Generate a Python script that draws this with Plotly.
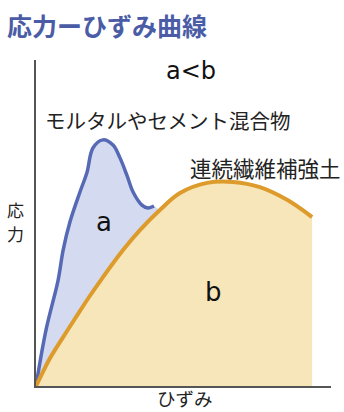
import plotly.graph_objects as go

# strain / stress, 0-100 scale on both axes
mortar_strain = [0, 3.4, 7.5, 9.2, 11.5, 14.9, 17.3, 19.3, 22.7, 26.1, 28.5, 30.8, 32.9, 35.9, 38.0, 40.0]
mortar_stress = [0, 17.2, 32.5, 41.7, 50.3, 59.5, 65.6, 73.0, 75.5, 73.9, 69.9, 64.7, 59.5, 55.5, 54.6, 55.2]

soil_strain = [0, 1.0, 4.4, 9.2, 13.6, 18.0, 22.0, 29.5, 35.3, 42.0, 48.8, 58.0, 66.8, 75.9, 85.1, 93.6]
soil_stress = [0, 1.8, 8.0, 15.0, 21.2, 27.3, 32.5, 41.7, 47.9, 54.0, 59.2, 62.3, 62.6, 61.0, 57.1, 51.8]

W, H = 344, 412
L, R, T, B = 36, 13, 60, 26
FONT = "Noto Sans CJK JP"
LATIN = "DejaVu Sans"


def px(x, y):
    # page pixel -> paper coords
    return (x - L) / (W - L - R), (H - B - y) / (H - T - B)


fig = go.Figure()

# orange area under the fibre-reinforced soil curve
fig.add_trace(go.Scatter(
    x=soil_strain, y=soil_stress, mode="lines",
    line=dict(color="rgba(0,0,0,0)", width=0, shape="spline"),
    fill="tozeroy", fillcolor="#f7e6b9", hoverinfo="skip",
))

# lower edge of the "a" region: soil curve up to where the mortar curve ends
n = len([s for s in soil_strain if s <= 42.0])
fig.add_trace(go.Scatter(
    x=soil_strain[:n], y=soil_stress[:n], mode="lines",
    line=dict(color="rgba(0,0,0,0)", width=0, shape="spline"),
    hoverinfo="skip",
))
fig.add_trace(go.Scatter(
    x=mortar_strain, y=mortar_stress, mode="lines",
    line=dict(color="#5669b5", width=3.5, shape="spline"),
    fill="tonexty", fillcolor="#d4daef",
))

fig.add_trace(go.Scatter(
    x=soil_strain, y=soil_stress, mode="lines",
    line=dict(color="#dd9b2c", width=4, shape="spline"),
))

labels = [
    ("応力ーひずみ曲線", 5, 25, 25, "#4a5ca6", "left", FONT, "bold"),
    ("a<b", 191, 71, 24, "#111111", "center", LATIN, "normal"),
    ("モルタルやセメント混合物", 43, 120, 20.5, "#222222", "left", FONT, "normal"),
    ("連続繊維補強土", 188, 167, 21.5, "#222222", "left", FONT, "normal"),
    # vertical y-axis title, one character each
    ("応", 15, 209, 17, "#222222", "center", FONT, "normal"),
    ("力", 15, 233, 17, "#222222", "center", FONT, "normal"),
    ("ひずみ", 185, 398, 18.5, "#222222", "center", FONT, "normal"),
    ("a", 104, 222, 26, "#111111", "center", LATIN, "normal"),
    ("b", 213, 292, 26, "#111111", "center", LATIN, "normal"),
]
for text, x, y, size, color, anchor, family, weight in labels:
    xp, yp = px(x, y)
    fig.add_annotation(
        text=text, x=xp, y=yp, xref="paper", yref="paper",
        xanchor=anchor, yanchor="middle", showarrow=False,
        font=dict(family=family, size=size, color=color, weight=weight),
    )

fig.update_layout(
    width=W, height=H,
    margin=dict(l=L, r=R, t=T, b=B),
    paper_bgcolor="white", plot_bgcolor="white",
    showlegend=False,
    xaxis=dict(range=[0, 100], showline=True, linecolor="#555555", linewidth=1.5,
               showgrid=False, zeroline=False, showticklabels=False, ticks=""),
    yaxis=dict(range=[0, 100], showline=True, linecolor="#555555", linewidth=1.5,
               showgrid=False, zeroline=False, showticklabels=False, ticks=""),
)

fig.write_html("out.html", config={"displayModeBar": False},
               post_script="document.body.style.margin='0';")
